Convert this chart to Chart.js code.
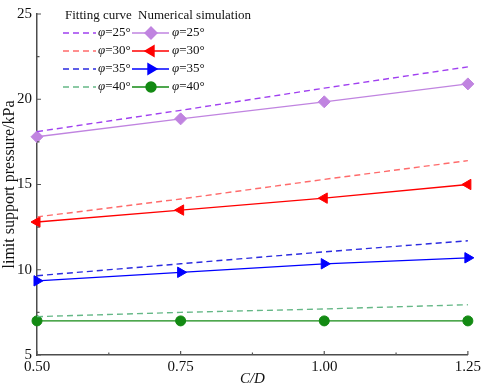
<!DOCTYPE html>
<html>
<head>
<meta charset="utf-8">
<script src="https://cdn.jsdelivr.net/npm/chart.js@4/dist/chart.umd.min.js"></script>
<style>
  html, body { margin: 0; padding: 0; background: #fff; }
  #wrap { width: 484px; height: 392px; }
</style>
</head>
<body>
<div id="wrap"><canvas id="chart" width="484" height="392"></canvas></div>
<script>
// C/D values on the x axis
const cd = [0.5, 0.75, 1.0, 1.25];
const phiLabels = ["φ=25°", "φ=30°", "φ=35°", "φ=40°"];

// fitting curves (dashed)
const fit25 = [18.1, 19.35, 20.65, 21.9];
const fit30 = [13.1, 14.15, 15.3, 16.4];
const fit35 = [9.65, 10.35, 11.05, 11.7];
const fit40 = [7.25, 7.5, 7.7, 7.95];

// numerical simulation (solid + markers)
const sim25 = [17.8, 18.85, 19.85, 20.9];
const sim30 = [12.8, 13.5, 14.2, 15.0];
const sim35 = [9.35, 9.85, 10.35, 10.7];
const sim40 = [7.0, 7.0, 7.0, 7.0];

const xTicks = [0.5, 0.75, 1.0, 1.25];
const yTicks = [5, 10, 15, 20, 25];

const fitColors = ["#a040f0", "#ff6b6b", "#2b2be0", "#66b887"];
const simColors = ["#c084e0", "#ff0000", "#0000ff", "#138a13"];
const simMarkers = [
  { style: "rectRot", rot: 0, r: 6 },
  { style: "triangle", rot: -90, r: 6 },
  { style: "triangle", rot: 90, r: 6 },
  { style: "circle", rot: 0, r: 5 }
];

const pts = arr => arr.map((v, i) => ({ x: cd[i], y: v }));

const fits = [fit25, fit30, fit35, fit40];
const sims = [sim25, sim30, sim35, sim40];

const datasets = [];
fits.forEach((f, i) => datasets.push({
  label: "fit " + phiLabels[i],
  data: pts(f),
  borderColor: fitColors[i],
  borderWidth: 1.4,
  borderDash: [6, 4],
  pointRadius: 0,
  fill: false,
  clip: false
}));
sims.forEach((s, i) => datasets.push({
  label: "sim " + phiLabels[i],
  data: pts(s),
  borderColor: simColors[i],
  backgroundColor: simColors[i],
  borderWidth: 1.3,
  pointStyle: simMarkers[i].style,
  pointRotation: simMarkers[i].rot,
  pointRadius: simMarkers[i].r,
  pointBorderWidth: 1,
  fill: false,
  clip: false
}));

// ticks pointing into the plot, with minor ticks between
const innerTicks = {
  id: "innerTicks",
  afterDraw(chart) {
    const ctx = chart.ctx;
    const xs = chart.scales.x, ys = chart.scales.y;
    const area = chart.chartArea;
    ctx.save();
    ctx.strokeStyle = "#555";
    ctx.lineWidth = 1.2;
    ctx.beginPath();
    for (let i = 0; i < xTicks.length; i++) {
      const px = xs.getPixelForValue(xTicks[i]);
      ctx.moveTo(px, area.bottom);
      ctx.lineTo(px, area.bottom - 4);
      if (i < xTicks.length - 1) {
        const mx = xs.getPixelForValue((xTicks[i] + xTicks[i + 1]) / 2);
        ctx.moveTo(mx, area.bottom);
        ctx.lineTo(mx, area.bottom - 2.5);
      }
    }
    for (let i = 0; i < yTicks.length; i++) {
      const py = ys.getPixelForValue(yTicks[i]);
      ctx.moveTo(area.left, py);
      ctx.lineTo(area.left + 4, py);
      if (i < yTicks.length - 1) {
        const my = ys.getPixelForValue((yTicks[i] + yTicks[i + 1]) / 2);
        ctx.moveTo(area.left, my);
        ctx.lineTo(area.left + 2.5, my);
      }
    }
    ctx.stroke();
    ctx.restore();
  }
};

// two-column legend: fitting curve | numerical simulation
function phiText(ctx, txt, x, y) {
  ctx.font = "italic 13px 'Liberation Serif'";
  ctx.fillText("φ", x, y);
  const w = ctx.measureText("φ").width;
  ctx.font = "13px 'Liberation Serif'";
  ctx.fillText(txt.slice(1), x + w, y);
}

const twoColLegend = {
  id: "twoColLegend",
  afterDraw(chart) {
    const ctx = chart.ctx;
    ctx.save();
    ctx.fillStyle = "#111";
    ctx.textBaseline = "middle";
    ctx.textAlign = "left";
    ctx.font = "13px 'Liberation Serif'";
    ctx.fillText("Fitting curve", 65, 16);
    ctx.fillText("Numerical simulation", 138, 16);
    for (let i = 0; i < 4; i++) {
      const y = 33 + i * 18;
      ctx.strokeStyle = fitColors[i];
      ctx.lineWidth = 1.4;
      ctx.setLineDash([6, 4]);
      ctx.beginPath();
      ctx.moveTo(63, y);
      ctx.lineTo(96, y);
      ctx.stroke();
      ctx.setLineDash([]);
      ctx.fillStyle = "#111";
      phiText(ctx, phiLabels[i], 98, y);

      ctx.strokeStyle = simColors[i];
      ctx.beginPath();
      ctx.moveTo(132, y);
      ctx.lineTo(169, y);
      ctx.stroke();
      ctx.fillStyle = simColors[i];
      Chart.helpers.drawPoint(ctx, {
        pointStyle: simMarkers[i].style,
        rotation: simMarkers[i].rot,
        radius: simMarkers[i].r,
        borderWidth: 1
      }, 151, y);
      ctx.fillStyle = "#111";
      phiText(ctx, phiLabels[i], 172, y);
    }
    ctx.restore();
  }
};

Chart.defaults.font.family = "'Liberation Serif', 'Times New Roman', serif";
Chart.defaults.color = "#111";

new Chart(document.getElementById("chart").getContext("2d"), {
  type: "line",
  data: { datasets },
  options: {
    responsive: false,
    animation: false,
    layout: { padding: { top: 8, right: 13, left: 0, bottom: 0 } },
    plugins: { legend: { display: false }, tooltip: { enabled: false } },
    scales: {
      x: {
        type: "linear",
        min: 0.5,
        max: 1.25,
        afterBuildTicks: s => { s.ticks = xTicks.map(v => ({ value: v })); },
        afterFit: s => { s.height = 37; },
        grid: { display: false, drawTicks: false },
        border: { display: true, color: "#4d4d4d", width: 1.5 },
        ticks: { padding: 3, font: { size: 15 }, maxRotation: 0, callback: v => v.toFixed(2) },
        title: { display: true, text: "C/D", font: { size: 15, style: "italic" }, padding: { top: 0, bottom: 4 } }
      },
      y: {
        min: 5,
        max: 25,
        afterBuildTicks: s => { s.ticks = yTicks.map(v => ({ value: v })); },
        afterFit: s => { s.width = 37; },
        grid: { display: false, drawTicks: false },
        border: { display: true, color: "#4d4d4d", width: 1.5 },
        ticks: { padding: 5, font: { size: 15 } },
        title: { display: true, text: "limit support pressure/kPa", font: { size: 16 }, padding: { top: 0, bottom: 0 } }
      }
    }
  },
  plugins: [innerTicks, twoColLegend]
});
</script>
</body>
</html>
